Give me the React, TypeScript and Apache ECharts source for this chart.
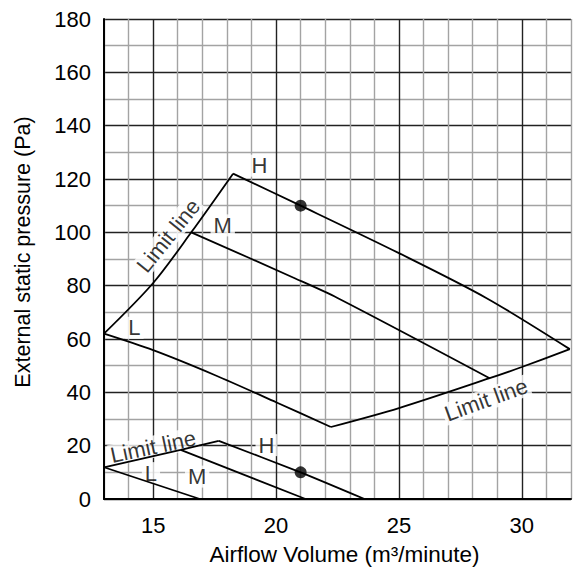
import React, { useEffect, useRef } from "react";
import * as echarts from "echarts";

// ---- data ----
const xTicks = [15, 20, 25, 30];
const yTicks = [0, 20, 40, 60, 80, 100, 120, 140, 160, 180];

// upper family (higher static pressure setting)
const upperLimitLeft: number[][] = [[13, 62], [15, 81], [16.55, 100], [18.25, 122]];
const upperH: number[][] = [[18.25, 122], [21, 110], [25, 92.2], [28.55, 75.4], [31.95, 56.2]];
const upperM: number[][] = [[16.55, 100], [20.76, 82.8], [22.5, 75.4], [28.69, 45.3]];
const upperL: number[][] = [[13, 62], [15, 55.8], [17.5, 46.5], [20, 36.3], [22.23, 27]];
const upperLimitBottom: number[][] = [[22.23, 27], [25, 34.1], [28.69, 45.3], [30, 49.5], [31.95, 56.2]];

// lower family
const lowerLimit: number[][] = [[13, 11.9], [16.12, 18.4], [17.67, 21.8]];
const lowerH: number[][] = [[17.67, 21.8], [21, 10], [23.6, 0]];
const lowerM: number[][] = [[16.12, 18.4], [21.2, 0]];
const lowerL: number[][] = [[13, 11.9], [16.9, 0]];

// rated points
const ratedPoints: number[][] = [[21, 110], [21, 10]];

// annotation texts
const annotationText = ["H", "M", "L", "Limit line", "Limit line", "Limit line", "H", "M", "L"];
const annotationX = [19.32, 17.83, 14.24, 15.62, 28.55, 15.0, 19.61, 16.79, 14.91];
const annotationY = [125, 102.6, 64.2, 98.7, 37.2, 19.6, 20.2, 8.4, 9.7];
const annotationAngle = [0, 0, 0, 51, 20, 12, 0, 0, 0];

const FONT = "Liberation Sans, Arial, sans-serif";
const MAJOR = "#222222";
const MINOR = "#a3a3a3";

export default function App() {
  const ref = useRef<HTMLDivElement>(null);

  useEffect(() => {
    if (!ref.current) return;
    const chart = echarts.init(ref.current, undefined, { renderer: "svg" });

    const curve = (data: number[][], smooth: number | boolean = false) => ({
      type: "line",
      data,
      symbol: "none",
      smooth,
      z: 3,
      lineStyle: { color: "#000", width: 1.8 },
      silent: true,
    });

    // x split line colours: ticks at 13,14,...; majors at 15,20,25,30
    const xColors = [MINOR, MINOR, MAJOR, MINOR, MINOR];

    const option: any = {
      animation: false,
      backgroundColor: "#fff",
      textStyle: { fontFamily: FONT },
      grid: { left: 104, top: 19, width: 471, height: 484, containLabel: false },
      xAxis: {
        type: "value",
        min: 13,
        max: 32,
        interval: 1,
        name: "Airflow Volume (m³/minute)",
        nameLocation: "middle",
        nameGap: 44,
        nameTextStyle: { fontSize: 22.5, color: "#000", fontFamily: FONT, padding: [0, 0, 0, 14] },
        axisLine: { show: true, lineStyle: { color: "#000", width: 2 } },
        axisTick: { show: false },
        axisLabel: {
          fontSize: 22,
          color: "#000",
          fontFamily: FONT,
          margin: 15,
          formatter: (v: number) => (xTicks.includes(v) ? String(v) : ""),
        },
        splitLine: { show: true, lineStyle: { color: xColors, width: 1.4 } },
      },
      yAxis: {
        type: "value",
        min: 0,
        max: 180,
        interval: 20,
        name: "External static pressure (Pa)",
        nameLocation: "middle",
        nameGap: 70,
        nameTextStyle: { fontSize: 21.5, color: "#000", fontFamily: FONT, padding: [0, 0, 0, 14] },
        axisLine: { show: true, lineStyle: { color: "#000", width: 2 } },
        axisTick: { show: false },
        axisLabel: {
          fontSize: 22,
          color: "#000",
          fontFamily: FONT,
          margin: 13,
          formatter: (v: number) => (yTicks.includes(v) ? String(v) : ""),
        },
        splitLine: { show: true, lineStyle: { color: MAJOR, width: 1.4 } },
        minorTick: { show: false, splitNumber: 2 },
        minorSplitLine: { show: true, lineStyle: { color: MINOR, width: 1.4 } },
      },
      series: [
        {
          type: "scatter",
          symbolSize: 0,
          z: 2,
          silent: true,
          data: annotationText.map((t, i) => ({
            value: [annotationX[i], annotationY[i]],
            label: {
              show: true,
              formatter: t,
              position: "inside",
              rotate: annotationAngle[i],
              fontSize: 22,
              fontFamily: FONT,
              color: "#000",
              backgroundColor: "#fff",
              padding: t === "Limit line" ? [0, 2] : [0, 3],
              align: "center",
              verticalAlign: "middle",
            },
          })),
        },
        curve(upperLimitLeft, 0.3),
        curve(upperH, 0.3),
        curve(upperM, 0.3),
        curve(upperL, 0.3),
        curve(upperLimitBottom, 0.3),
        curve(lowerLimit),
        curve(lowerH, 0.2),
        curve(lowerM),
        curve(lowerL),
        {
          type: "scatter",
          data: ratedPoints,
          symbol: "circle",
          symbolSize: 12,
          z: 4,
          silent: true,
          itemStyle: { color: "#000" },
        },
      ],
    };

    chart.setOption(option);
    return () => chart.dispose();
  }, []);

  return (
    <div
      ref={ref}
      style={{ position: "fixed", left: 0, top: 0, width: 574, height: 571, background: "#fff" }}
    />
  );
}
